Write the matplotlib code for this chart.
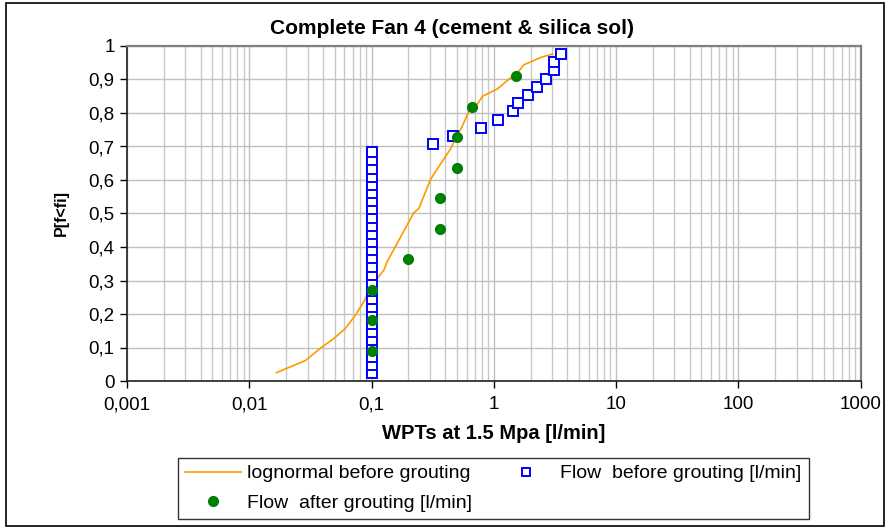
import matplotlib
matplotlib.use("Agg")
import matplotlib.pyplot as plt
from matplotlib.lines import Line2D
from matplotlib.patches import Rectangle
from matplotlib.ticker import FixedLocator, FuncFormatter, NullFormatter, LogLocator

plt.rcParams['font.family'] = ['Liberation Sans', 'DejaVu Sans']

# Lognormal fit before grouting (flow in l/min, cumulative probability)
lognormal_flow = [0.0167, 0.0288, 0.0383, 0.0492, 0.0612, 0.0740, 0.0865, 0.1014,
                  0.1262, 0.1341, 0.1725, 0.2218, 0.2438, 0.3041, 0.3673, 0.4385,
                  0.5546, 0.6295, 0.7362, 0.8091, 1.0715, 1.6106, 1.7701, 2.4266,
                  3.0269]
lognormal_prob = [0.025, 0.061, 0.098, 0.127, 0.157, 0.197, 0.237, 0.287,
                  0.331, 0.356, 0.429, 0.502, 0.515, 0.602, 0.648, 0.690,
                  0.762, 0.807, 0.827, 0.850, 0.872, 0.926, 0.944, 0.966,
                  0.976]

# Flow before grouting [l/min]
before_flow = [0.1] * 28 + [0.32, 0.46, 0.79, 1.08, 1.43, 1.59, 1.90, 2.26,
                            2.70, 3.12, 3.12, 3.58]
before_prob = [0.024, 0.049, 0.073, 0.098, 0.122, 0.146, 0.171, 0.195,
               0.220, 0.244, 0.268, 0.293, 0.317, 0.341, 0.366, 0.390,
               0.415, 0.439, 0.463, 0.488, 0.512, 0.537, 0.561, 0.585,
               0.610, 0.634, 0.659, 0.683, 0.707, 0.732, 0.756, 0.780,
               0.805, 0.829, 0.854, 0.878, 0.902, 0.927, 0.951, 0.976]

# Flow after grouting [l/min]
after_flow = [0.1, 0.1, 0.1, 0.20, 0.36, 0.36, 0.50, 0.50, 0.66, 1.53]
after_prob = [0.091, 0.182, 0.273, 0.364, 0.455, 0.545, 0.636, 0.727, 0.818, 0.909]

x_ticks = [0.001, 0.01, 0.1, 1, 10, 100, 1000]
x_tick_labels = ["0,001", "0,01", "0,1", "1", "10", "100", "1000"]
y_ticks = [0, 0.1, 0.2, 0.3, 0.4, 0.5, 0.6, 0.7, 0.8, 0.9, 1]
y_tick_labels = ["0", "0,1", "0,2", "0,3", "0,4", "0,5", "0,6", "0,7", "0,8", "0,9", "1"]

W, H = 888, 529
fig = plt.figure(figsize=(W / 100, H / 100), dpi=100)
fig.patch.set_facecolor("white")

# outer chart border
fig.patches.append(Rectangle((6 / W, 3 / H), 878 / W, 523 / H, transform=fig.transFigure,
                             fill=False, edgecolor="black", linewidth=1.2))

left, right, top, bottom = 127, 860.5, 46, 381
ax = fig.add_axes([left / W, 1 - bottom / H, (right - left) / W, (bottom - top) / H])
ax.set_xscale("log")
ax.set_xlim(0.001, 1000)
ax.set_ylim(0, 1)

ax.xaxis.set_major_locator(FixedLocator(x_ticks))
ax.xaxis.set_major_formatter(FuncFormatter(lambda v, p: x_tick_labels[x_ticks.index(v)] if v in x_ticks else ""))
ax.xaxis.set_minor_locator(LogLocator(base=10, subs=range(2, 10)))
ax.xaxis.set_minor_formatter(NullFormatter())
ax.set_yticks(y_ticks)
ax.set_yticklabels(y_tick_labels)

ax.grid(True, which="major", axis="both", color="#c0c0c0", linewidth=1.0)
ax.grid(True, which="minor", axis="x", color="#c8c8c8", linewidth=1.0)
ax.set_axisbelow(True)

ax.tick_params(axis="both", which="major", direction="out", length=5, width=1,
               color="black", labelsize=13.5, pad=4)
ax.tick_params(axis="x", which="minor", length=0)
ax.tick_params(axis="x", which="major", pad=6)

for s in ("top", "right"):
    ax.spines[s].set_color("#808080")
    ax.spines[s].set_linewidth(1.6)
for s in ("left", "bottom"):
    ax.spines[s].set_color("#202020")
    ax.spines[s].set_linewidth(1.2)

ax.plot(lognormal_flow, lognormal_prob, color="#ff9900", linewidth=1.2, zorder=3)
ax.plot(before_flow, before_prob, linestyle="none", marker="s", markersize=7.6,
        markerfacecolor="white", markeredgecolor="#0000ff", markeredgewidth=1.4, zorder=4)
ax.plot(after_flow, after_prob, linestyle="none", marker="o", markersize=7.0,
        markerfacecolor="#008000", markeredgecolor="#008000", zorder=5)

fig.text(452 / W, 1 - 28 / H, "Complete Fan 4 (cement & silica sol)", fontsize=15,
         fontweight="bold", ha="center", va="center")
ax.set_xlabel("WPTs at 1.5 Mpa [l/min]", fontsize=14.5, fontweight="bold", labelpad=8)
ax.set_ylabel("P[f<fi]", fontsize=11.5, fontweight="bold", labelpad=14)

handles = [
    Line2D([], [], color="#ff9900", linewidth=1.2),
    Line2D([], [], linestyle="none", marker="o", markersize=7.0,
           markerfacecolor="#008000", markeredgecolor="#008000"),
    Line2D([], [], linestyle="none", marker="s", markersize=6.0,
           markerfacecolor="white", markeredgecolor="#0000ff", markeredgewidth=1.4),
]
labels = ["lognormal before grouting", "Flow  after grouting [l/min]",
          "Flow  before grouting [l/min]"]
leg = fig.legend(handles, labels, ncol=2, loc="upper left",
                 bbox_to_anchor=(178 / W, 1 - 458 / H),
                 fontsize=14.0, frameon=True, fancybox=False, shadow=False,
                 handlelength=2.9, handletextpad=0.3, borderaxespad=0,
                 labelspacing=0.6, columnspacing=1.35, borderpad=0.35)
leg.get_frame().set_edgecolor("black")
leg.get_frame().set_linewidth(1.0)

fig.savefig("out.png", dpi=100)
